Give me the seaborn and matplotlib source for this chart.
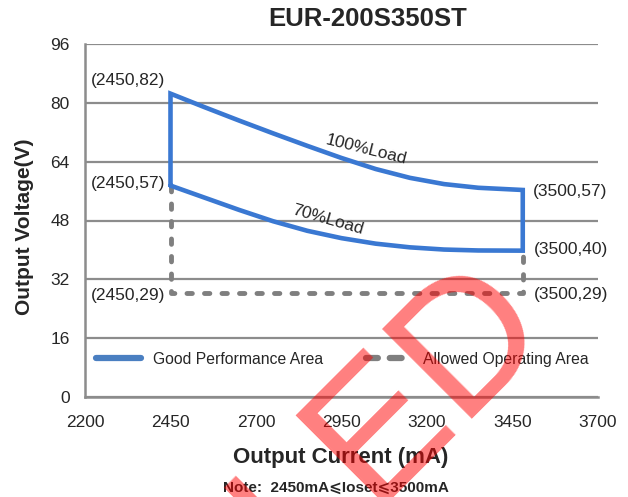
import numpy as np
import pandas as pd
import matplotlib
matplotlib.use("Agg")
import matplotlib.pyplot as plt
import seaborn as sns
from matplotlib.lines import Line2D

# ---------------- data ----------------
title = "EUR-200S350ST"
x_ticks = [2200, 2450, 2700, 2950, 3200, 3450, 3700]
y_ticks = [0, 16, 32, 48, 64, 80, 96]

load100_current = [2450, 2550, 2650, 2750, 2850, 2950, 3050, 3150, 3250, 3350, 3480]
load100_voltage = [82.5, 78.8, 75.2, 71.7, 68.3, 65.0, 62.0, 59.6, 57.9, 56.9, 56.3]
load70_current = [2450, 2550, 2650, 2750, 2850, 2950, 3050, 3150, 3250, 3350, 3480]
load70_voltage = [57.5, 54.2, 50.9, 47.8, 45.2, 43.2, 41.7, 40.7, 40.1, 39.85, 39.8]

allowed_current = [2450, 2450, 3480, 3480]
allowed_voltage = [57.5, 28.2, 28.2, 39.8]

corner_labels = ["(2450,82)", "(2450,57)", "(2450,29)", "(3500,57)", "(3500,40)", "(3500,29)"]
curve_labels = ["100%Load", "70%Load"]
legend_labels = ["Good Performance Area", "Allowed Operating Area"]

# ---------------- style ----------------
sns.set_style("white")
plt.rcParams["font.family"] = ["Liberation Sans", "DejaVu Sans"]

BLUE = "#3a78d2"
LEG_BLUE = "#4a7fc1"
GRAY = "#7f7f7f"
GRID = "#8c8c8c"

W, H = 628, 497
fig = plt.figure(figsize=(W / 100, H / 100), dpi=100)
ax = fig.add_axes([85 / W, 1 - 397 / H, 513 / W, 353 / H])

# closed good-performance boundary
good = pd.DataFrame({
    "current": [load70_current[0]] + load100_current + load70_current[::-1],
    "voltage": [load70_voltage[0]] + load100_voltage + load70_voltage[::-1],
})
allowed = pd.DataFrame({"current": allowed_current, "voltage": allowed_voltage})

sns.lineplot(data=allowed, x="current", y="voltage", sort=False, estimator=None,
             color=GRAY, linewidth=3.5, linestyle=(0, (1.1, 2.5)),
             dash_capstyle="round", ax=ax, zorder=3)
sns.lineplot(data=good, x="current", y="voltage", sort=False, estimator=None,
             color=BLUE, linewidth=3.3, solid_joinstyle="miter", ax=ax, zorder=4)

ax.set_xlim(2200, 3700)
ax.set_ylim(0, 96)
ax.set_xticks(x_ticks)
ax.set_yticks(y_ticks)
ax.set_xlabel("")
ax.set_ylabel("")

ax.yaxis.grid(True, color=GRID, linewidth=1.6)
ax.xaxis.grid(False)
for s in ["top", "right"]:
    ax.spines[s].set_visible(False)
for s in ["left", "bottom"]:
    ax.spines[s].set_color(GRID)
    ax.spines[s].set_linewidth(1.8)
ax.tick_params(axis="x", direction="in", length=5, width=1.5, color=GRID,
               pad=13, labelsize=12.5)
ax.tick_params(axis="y", length=0, pad=11, labelsize=12.5)

# corner annotations
fs = 12.5
ax.text(2435, 86, corner_labels[0], ha="right", va="center", fontsize=fs)
ax.text(2435, 58, corner_labels[1], ha="right", va="center", fontsize=fs)
ax.text(2435, 27.5, corner_labels[2], ha="right", va="center", fontsize=fs)
ax.text(3510, 55.8, corner_labels[3], ha="left", va="center", fontsize=fs)
ax.text(3512, 40, corner_labels[4], ha="left", va="center", fontsize=fs)
ax.text(3512, 28, corner_labels[5], ha="left", va="center", fontsize=fs)

ax.text(3023, 67.2, curve_labels[0], ha="center", va="center", fontsize=fs, rotation=-14)
ax.text(2909, 48.1, curve_labels[1], ha="center", va="center", fontsize=fs, rotation=-16)

# legend
handles = [
    Line2D([], [], color=LEG_BLUE, linewidth=4.5, solid_capstyle="round"),
    Line2D([], [], color=GRAY, linewidth=4.5, linestyle=(0, (1.9, 1.9)), dash_capstyle="round"),
]
ax.legend(handles, legend_labels, loc="center left", bbox_to_anchor=(0.021, 10.3 / 96),
          ncol=2, frameon=False, fontsize=11.3, handlelength=2.9, handletextpad=0.75,
          columnspacing=2.7, borderaxespad=0, borderpad=0)

# titles
fig.text(368 / W, 1 - 19 / H, title, ha="center", va="center", fontsize=18.5, weight="bold")
fig.text(341 / W, 1 - 458 / H, "Output Current (mA)", ha="center", va="center",
         fontsize=16, weight="bold")
fig.text(25 / W, 1 - 227 / H, "Output Voltage(V)", ha="center", va="center",
         fontsize=15, weight="bold", rotation=90)
fig.text(335.5 / W, 1 - 488 / H, "Note:  2450mA\u2a7dIoset\u2a7d3500mA", ha="center",
         va="center", fontsize=11, weight="bold")

# watermark
fig.text(299 / W, 1 - 577 / H, "LED", rotation=45, rotation_mode="anchor",
         ha="left", va="baseline", fontsize=132, color="red", alpha=0.5, zorder=10)

fig.savefig("out.png", dpi=100)
